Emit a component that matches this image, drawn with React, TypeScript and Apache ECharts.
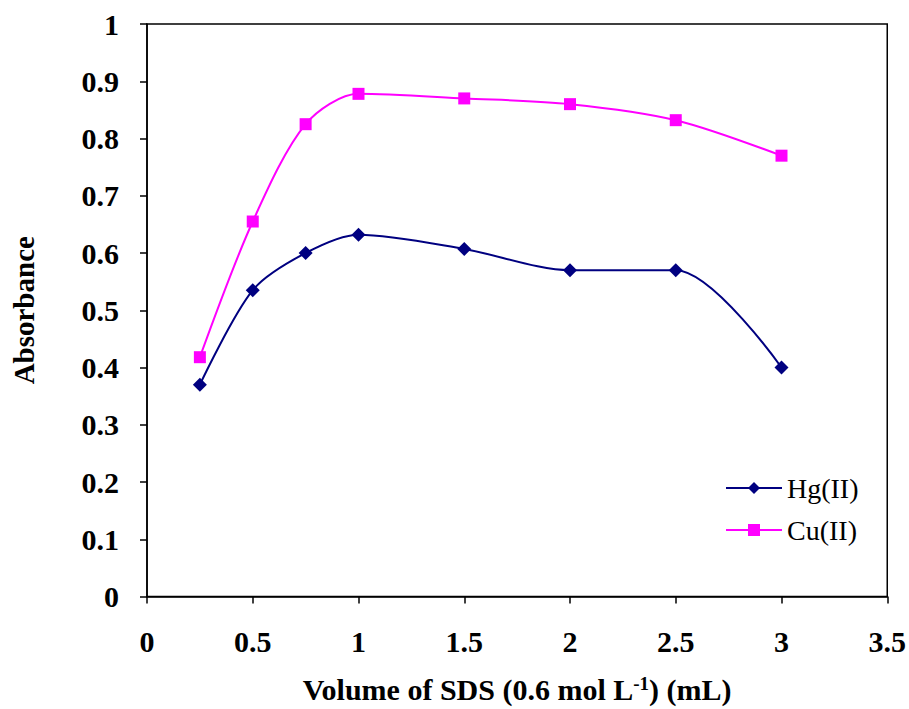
import React, { useEffect, useRef } from "react";
import * as echarts from "echarts";

const volumes = [0.25, 0.5, 0.75, 1, 1.5, 2, 2.5, 3];
const hgValues = [0.37, 0.535, 0.6, 0.632, 0.607, 0.57, 0.57, 0.4];
const cuValues = [0.418, 0.655, 0.825, 0.878, 0.87, 0.86, 0.832, 0.77];
const seriesNames = ["Hg(II)", "Cu(II)"];

const FONT = "'Liberation Serif', 'Times New Roman', serif";

export default function App() {
  const ref = useRef<HTMLDivElement>(null);
  useEffect(() => {
    if (!ref.current) return;
    const chart = echarts.init(ref.current, null, { renderer: "svg" });
    const hgData = volumes.map((v, i) => [v, hgValues[i]]);
    const cuData = volumes.map((v, i) => [v, cuValues[i]]);
    chart.setOption({
      animation: false,
      backgroundColor: "#ffffff",
      grid: {
        left: 147,
        top: 24,
        right: 17,
        bottom: 111,
        show: true,
        borderColor: "#000",
        borderWidth: 1.5,
        backgroundColor: "transparent",
      },
      legend: {
        orient: "vertical",
        left: 720,
        top: 469,
        itemWidth: 56,
        itemHeight: 15,
        itemGap: 14,
        textStyle: { fontFamily: FONT, fontSize: 28, color: "#000" },
        data: seriesNames,
      },
      xAxis: {
        type: "value",
        min: 0,
        max: 3.5,
        interval: 0.5,
        splitLine: { show: false },
        axisLine: { lineStyle: { color: "#000", width: 1.5 } },
        axisTick: { inside: false, length: 7, lineStyle: { color: "#000", width: 1.5 } },
        axisLabel: {
          margin: 30,
          fontFamily: FONT,
          fontSize: 30,
          fontWeight: "bold",
          color: "#000",
        },
        name: "{a|Volume of SDS (0.6 mol L}{s|-1}{a|) (mL)}",
        nameLocation: "middle",
        nameGap: 77,
        nameTextStyle: {
          rich: {
            a: { fontFamily: FONT, fontSize: 30, fontWeight: "bold", color: "#000" },
            s: { fontFamily: FONT, fontSize: 19, fontWeight: "bold", color: "#000", verticalAlign: "top", padding: [0, 0, 12, 0] },
          },
        },
      },
      yAxis: {
        type: "value",
        min: 0,
        max: 1,
        interval: 0.1,
        splitLine: { show: false },
        axisLine: { lineStyle: { color: "#000", width: 1.5 } },
        axisTick: { inside: false, length: 7, lineStyle: { color: "#000", width: 1.5 } },
        axisLabel: {
          margin: 28,
          fontFamily: FONT,
          fontSize: 30,
          fontWeight: "bold",
          color: "#000",
          formatter: (v: number) => String(Math.round(v * 10) / 10),
        },
        name: "Absorbance",
        nameLocation: "middle",
        nameGap: 109,
        nameTextStyle: { fontFamily: FONT, fontSize: 29, fontWeight: "bold", color: "#000" },
      },
      series: [
        {
          name: seriesNames[0],
          type: "line",
          data: hgData,
          smooth: 0.3,
          symbol: "diamond",
          symbolSize: 14,
          itemStyle: { color: "#000080" },
          lineStyle: { color: "#000080", width: 2 },
        },
        {
          name: seriesNames[1],
          type: "line",
          data: cuData,
          smooth: 0.3,
          symbol: "rect",
          symbolSize: 12,
          itemStyle: { color: "#FF00FF" },
          lineStyle: { color: "#FF00FF", width: 2 },
        },
      ],
    });
    return () => chart.dispose();
  }, []);
  return (
    <div
      ref={ref}
      style={{ position: "fixed", left: 0, top: 0, width: 909, height: 709, background: "#fff" }}
    />
  );
}
